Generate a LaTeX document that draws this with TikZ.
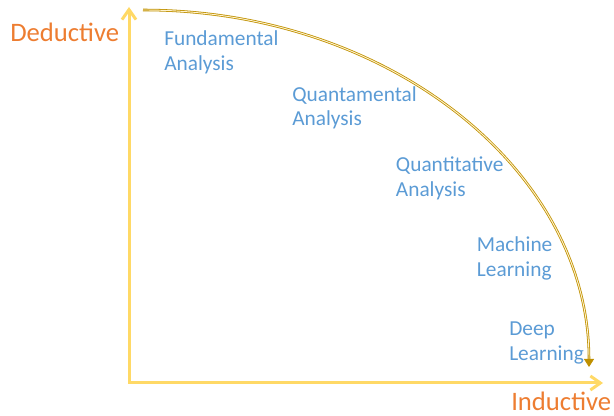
\documentclass[tikz,border=0pt]{standalone}
\usepackage{fontspec}
\setmainfont{Carlito}
\usetikzlibrary{arrows.meta, positioning}
\definecolor{axisyellow}{HTML}{FFD966}
\definecolor{curvegold}{HTML}{BF9000}
\definecolor{curvelight}{HTML}{FFF2CC}
\definecolor{labelblue}{HTML}{5B9BD5}
\definecolor{endorange}{HTML}{ED7D31}
\tikzset{
    axis/.style={axisyellow, line width=2.25pt, line join=miter, {Straight Barb[length=7.5pt, width=10.5pt]}-{Straight Barb[length=7.5pt, width=10.5pt]}},
    method/.style={anchor=base west, inner sep=0pt, align=left, text=labelblue, font=\fontsize{16}{18.5}\selectfont},
    endlabel/.style={anchor=base west, inner sep=0pt, text=endorange, font=\fontsize{20}{24}\selectfont}
}

\begin{document}
\begin{tikzpicture}[x=0.75pt, y=-0.75pt]
    \useasboundingbox (0,0) rectangle (614,416);
    \coordinate (top) at (129,7);
    \coordinate (origin) at (129,383);
    \coordinate (right) at (603,383);
    \coordinate (start) at (143,10);
    \coordinate (finish) at (589,367);
    \draw[axis] (top) -- (origin) -- (right);
    \draw[curvegold, double=curvelight, line width=0.6pt, double distance=0.7pt, -{Triangle[length=6pt, width=7.5pt]}]
        (start) .. controls (388.8,10) and (589,170.3) .. (finish);
    \node[endlabel] (deductive) at (10,41.7) {Deductive};
    \node[endlabel] (inductive) at (511,411) {Inductive};
    \node[method] (fundamental) at (164,70.5) {Fundamental\\Analysis};
    \node[method] (quantamental) at (292,126) {Quantamental\\Analysis};
    \node[method] (quantitative) at (395.7,196.5) {Quantitative\\Analysis};
    \node[method] (machine) at (476.7,276.5) {Machine\\Learning};
    \node[method] (deep) at (509,360.5) {Deep\\Learning};
\end{tikzpicture}
\end{document}
